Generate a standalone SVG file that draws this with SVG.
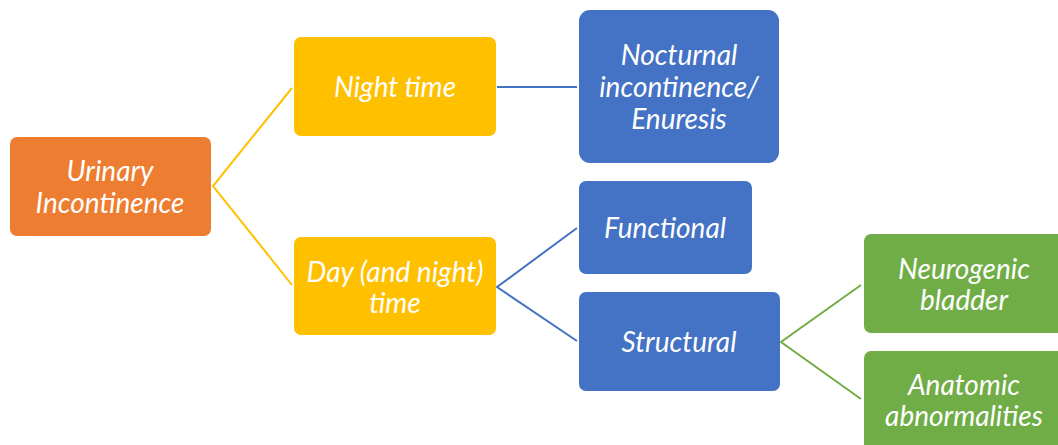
<svg xmlns="http://www.w3.org/2000/svg" width="1058" height="445" viewBox="0 0 1058 445">
<style>
text{font-family:Lato,"Open Sans","Liberation Sans",sans-serif;font-style:italic;font-size:28px;fill:#fff;text-anchor:middle;dominant-baseline:central}
.o{fill:#ED7D31}.y{fill:#FFC000}.b{fill:#4472C4}.g{fill:#70AD47}
.c{fill:none;stroke-width:2}
</style>
<rect width="1058" height="445" fill="#fff"/>
<g id="connectors">
<polyline class="c" stroke="#FFC000" points="292,88 213,186 292,285"/>
<line class="c" stroke="#4472C4" x1="497" y1="87" x2="577" y2="87"/>
<polyline class="c" stroke="#4472C4" points="577,228 497,287 577,341"/>
<polyline class="c" stroke="#70AD47" points="861,285 781,342 861,399"/>
</g>
<g id="urinary"><rect class="o" x="10" y="137" width="201" height="99" rx="7"/><text x="110" y="170">Urinary</text><text x="110" y="202">Incontinence</text></g>
<g id="night"><rect class="y" x="294" y="37" width="202" height="99" rx="7"/><text x="395" y="86">Night time</text></g>
<g id="day"><rect class="y" x="294" y="237" width="202" height="98" rx="7"/><text x="395" y="271">Day (and night)</text><text x="395" y="302">time</text></g>
<g id="nocturnal"><rect class="b" x="579" y="10" width="200" height="153" rx="11"/><text x="679" y="54">Nocturnal</text><text x="679" y="86">incontinence/</text><text x="679" y="118">Enuresis</text></g>
<g id="functional"><rect class="b" x="579" y="181" width="173" height="93" rx="7"/><text x="665" y="227">Functional</text></g>
<g id="structural"><rect class="b" x="579" y="292" width="201" height="99" rx="7"/><text x="679" y="341">Structural</text></g>
<g id="neurogenic"><rect class="g" x="864" y="234" width="204" height="99" rx="7"/><text x="964" y="268">Neurogenic</text><text x="964" y="299">bladder</text></g>
<g id="anatomic"><rect class="g" x="864" y="351" width="204" height="104" rx="7"/><text x="964" y="384">Anatomic</text><text x="964" y="415">abnormalities</text></g>
</svg>
